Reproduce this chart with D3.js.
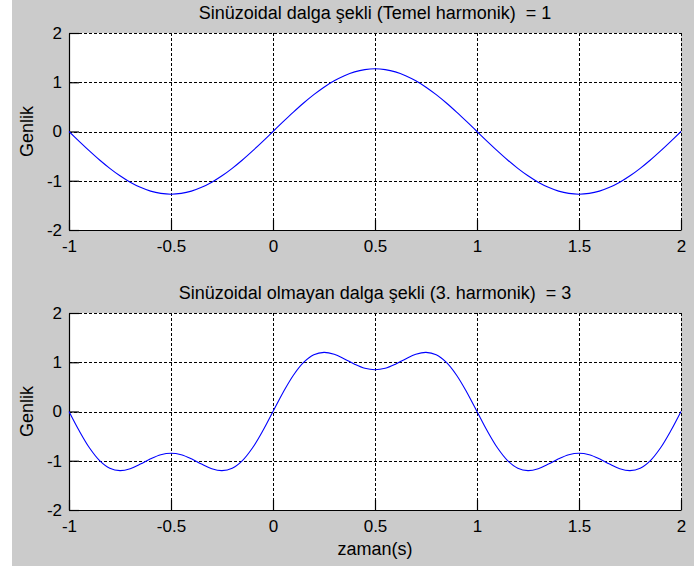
<!DOCTYPE html>
<html>
<head>
<meta charset="utf-8">
<script src="https://cdn.jsdelivr.net/npm/d3@7"></script>
<style>
  html, body { margin: 0; padding: 0; background: #ffffff; }
  svg text { font-family: "Liberation Sans", Arial, sans-serif; fill: #000; }
</style>
</head>
<body>
<svg id="fig" width="694" height="566"></svg>
<script>
// Sample times (s)
const times = [
  -1.00, -0.95, -0.90, -0.85, -0.80, -0.75, -0.70, -0.65, -0.60, -0.55,
  -0.50, -0.45, -0.40, -0.35, -0.30, -0.25, -0.20, -0.15, -0.10, -0.05,
   0.00,  0.05,  0.10,  0.15,  0.20,  0.25,  0.30,  0.35,  0.40,  0.45,
   0.50,  0.55,  0.60,  0.65,  0.70,  0.75,  0.80,  0.85,  0.90,  0.95,
   1.00,  1.05,  1.10,  1.15,  1.20,  1.25,  1.30,  1.35,  1.40,  1.45,
   1.50,  1.55,  1.60,  1.65,  1.70,  1.75,  1.80,  1.85,  1.90,  1.95,
   2.00
];

// Fundamental harmonic only
const fundamental = [
   0.000, -0.199, -0.393, -0.578, -0.748, -0.900, -1.030, -1.134, -1.211, -1.257,
  -1.273, -1.257, -1.211, -1.134, -1.030, -0.900, -0.748, -0.578, -0.393, -0.199,
   0.000,  0.199,  0.393,  0.578,  0.748,  0.900,  1.030,  1.134,  1.211,  1.257,
   1.273,  1.257,  1.211,  1.134,  1.030,  0.900,  0.748,  0.578,  0.393,  0.199,
   0.000, -0.199, -0.393, -0.578, -0.748, -0.900, -1.030, -1.134, -1.211, -1.257,
  -1.273, -1.257, -1.211, -1.134, -1.030, -0.900, -0.748, -0.578, -0.393, -0.199,
   0.000
];

// Fundamental + 3rd harmonic
const thirdHarmonic = [
   0.000, -0.392, -0.737, -0.997, -1.152, -1.200, -1.161, -1.068, -0.961, -0.879,
  -0.849, -0.879, -0.961, -1.068, -1.161, -1.200, -1.152, -0.997, -0.737, -0.392,
   0.000,  0.392,  0.737,  0.997,  1.152,  1.200,  1.161,  1.068,  0.961,  0.879,
   0.849,  0.879,  0.961,  1.068,  1.161,  1.200,  1.152,  0.997,  0.737,  0.392,
   0.000, -0.392, -0.737, -0.997, -1.152, -1.200, -1.161, -1.068, -0.961, -0.879,
  -0.849, -0.879, -0.961, -1.068, -1.161, -1.200, -1.152, -0.997, -0.737, -0.392,
   0.000
];

const xTicks = [-1, -0.5, 0, 0.5, 1, 1.5, 2];
const xTickLabels = ["-1", "-0.5", "0", "0.5", "1", "1.5", "2"];
const yTicks = [-2, -1, 0, 1, 2];
const yTickLabels = ["-2", "-1", "0", "1", "2"];

const titles = [
  "Sinüzoidal dalga şekli (Temel harmonik)  = 1",
  "Sinüzoidal olmayan dalga şekli (3. harmonik)  = 3"
];
const yLabel = "Genlik";
const xLabel = "zaman(s)";

const svg = d3.select("#fig");

// figure background
svg.append("rect")
  .attr("x", 12).attr("y", 0)
  .attr("width", 682).attr("height", 566)
  .attr("fill", "#cbcbcb");

const left = 69, right = 681;
const panels = [
  { top: 33, bottom: 230, values: fundamental, title: titles[0], showX: false },
  { top: 313, bottom: 510, values: thirdHarmonic, title: titles[1], showX: true }
];

const x = d3.scaleLinear().domain([-1, 2]).range([left, right]);

panels.forEach(p => {
  const y = d3.scaleLinear().domain([-2, 2]).range([p.bottom, p.top]);
  const g = svg.append("g");

  g.append("rect")
    .attr("x", left).attr("y", p.top)
    .attr("width", right - left).attr("height", p.bottom - p.top)
    .attr("fill", "#ffffff");

  // dashed grid
  const grid = g.append("g").attr("stroke", "#000").attr("stroke-width", 1)
    .attr("stroke-dasharray", "3,2").attr("shape-rendering", "crispEdges");
  grid.selectAll("line.v").data(xTicks).join("line")
    .attr("class", "v")
    .attr("x1", d => Math.round(x(d)) + 0.5).attr("x2", d => Math.round(x(d)) + 0.5)
    .attr("y1", p.top).attr("y2", p.bottom);
  grid.selectAll("line.h").data(yTicks).join("line")
    .attr("class", "h")
    .attr("y1", d => Math.round(y(d)) + 0.5).attr("y2", d => Math.round(y(d)) + 0.5)
    .attr("x1", left).attr("x2", right);

  // axes with inward ticks
  const xAxis = d3.axisBottom(x).tickValues(xTicks)
    .tickFormat((d, i) => xTickLabels[i]).tickSizeInner(-10).tickSizeOuter(0).tickPadding(22);
  const gx = g.append("g").attr("transform", `translate(0,${p.bottom})`).call(xAxis);

  const yAxis = d3.axisLeft(y).tickValues(yTicks)
    .tickFormat((d, i) => yTickLabels[i]).tickSizeInner(-10).tickSizeOuter(0).tickPadding(7);
  const gy = g.append("g").attr("transform", `translate(${left},0)`).call(yAxis);

  [gx, gy].forEach(a => {
    a.select(".domain").attr("stroke", "#000").attr("stroke-width", 1.2);
    a.selectAll(".tick line").attr("stroke", "#000").attr("stroke-width", 1.2);
    a.selectAll(".tick text").attr("font-size", 17)
      .style("font-family", '"Liberation Sans", Arial, sans-serif').attr("fill", "#000");
  });
  gx.selectAll(".tick text").attr("dy", "0");

  // waveform
  const line = d3.line()
    .x((d, i) => x(times[i]))
    .y(d => y(d))
    .curve(d3.curveCatmullRom);
  g.append("path")
    .datum(p.values)
    .attr("fill", "none")
    .attr("stroke", "#0000ff")
    .attr("stroke-width", 1.1)
    .attr("d", line);

  // title
  g.append("text")
    .attr("x", (left + right) / 2).attr("y", p.top - 14)
    .attr("text-anchor", "middle").attr("font-size", 18)
    .attr("xml:space", "preserve").style("white-space", "pre")
    .text(p.title);

  // y label
  g.append("text")
    .attr("transform", `translate(33,${(p.top + p.bottom) / 2}) rotate(-90)`)
    .attr("text-anchor", "middle").attr("font-size", 18)
    .text(yLabel);

  if (p.showX) {
    g.append("text")
      .attr("x", (left + right) / 2).attr("y", p.bottom + 45)
      .attr("text-anchor", "middle").attr("font-size", 18)
      .text(xLabel);
  }
});
</script>
</body>
</html>
